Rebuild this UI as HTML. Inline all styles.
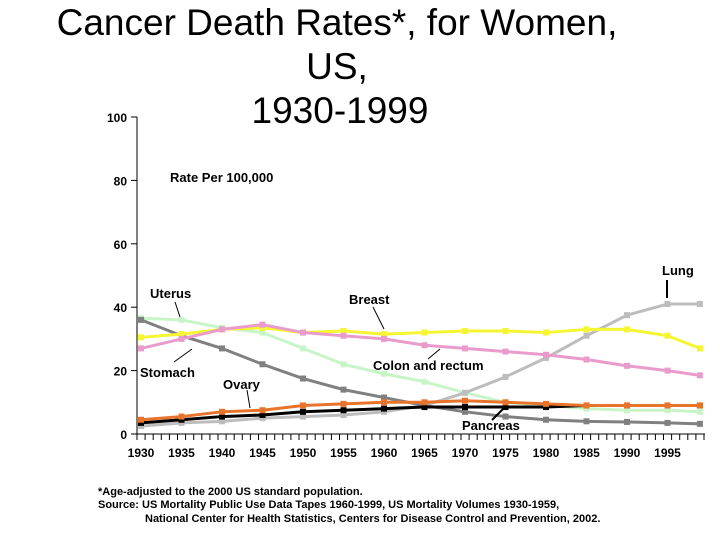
<!DOCTYPE html>
<html><head><meta charset="utf-8">
<style>
body{margin:0;background:#fff;}
svg text{font-family:"Liberation Sans",Arial,sans-serif;}
.t{font-size:12px;font-weight:bold;fill:#000}
.lab{font-size:13px;font-weight:bold;fill:#000}
</style></head>
<body>
<svg id="chart" width="720" height="540" xmlns="http://www.w3.org/2000/svg">
<g>
<text x="337" y="35" font-size="37" text-anchor="middle">Cancer Death Rates*, for Women,</text>
<text x="337" y="79" font-size="37" text-anchor="middle">US,</text>
<text x="340" y="123" font-size="37" text-anchor="middle">1930-1999</text>
</g>
<text class="lab" x="170" y="182" font-size="15">Rate Per 100,000</text>
<g id="axes"></g>
<g id="series"></g>
<g>
<text class="lab" x="150" y="298">Uterus</text>
<line x1="175" y1="302" x2="180" y2="317" stroke="#000"/>
<text class="lab" x="349" y="304">Breast</text>
<line x1="373" y1="307" x2="384" y2="329" stroke="#000"/>
<text class="lab" x="140" y="377">Stomach</text>
<line x1="174" y1="362" x2="192" y2="349" stroke="#000"/>
<text class="lab" x="223" y="389">Ovary</text>
<line x1="247" y1="390" x2="250" y2="408" stroke="#000"/>
<text class="lab" x="373" y="370">Colon and rectum</text>
<line x1="428" y1="359" x2="440" y2="349" stroke="#000"/>
<text class="lab" x="462" y="430">Pancreas</text>
<line x1="492" y1="420" x2="505" y2="407" stroke="#000" stroke-width="2"/>
<text class="lab" x="662" y="275">Lung</text>
<line x1="667" y1="280" x2="667" y2="298" stroke="#000" stroke-width="2"/>
</g>
<g font-size="11" font-weight="bold">
<text x="98" y="495">*Age-adjusted to the 2000 US standard population.</text>
<text x="98" y="508">Source:  US Mortality Public Use Data Tapes 1960-1999, US Mortality Volumes 1930-1959,</text>
<text x="145" y="522">National Center for Health Statistics, Centers for Disease Control and Prevention, 2002.</text>
</g>
</svg>
<script>
const years=[1930,1935,1940,1945,1950,1955,1960,1965,1970,1975,1980,1985,1990,1995,1999];
const lung=[2.5,3.5,4,5,5.5,6,7,9,13,18,24,31,37.5,41,41];
const breast=[30.5,31.5,33,33.5,32,32.5,31.5,32,32.5,32.5,32,33,33,31,27];
const colon=[27,30,33,34.5,32,31,30,28,27,26,25,23.5,21.5,20,18.5];
const uterus=[36.5,36,33.5,32,27,22,19,16.5,13,10,9,8,7.5,7.5,7];
const stomach=[36,31,27,22,17.5,14,11.5,9,7,5.5,4.5,4,3.8,3.5,3.2];
const ovary=[4.5,5.5,7,7.5,9,9.5,10,10,10.5,10,9.5,9,9,9,9];
const pancreas=[3.5,4.5,5.5,6,7,7.5,8,8.5,8.5,8.5,8.5,9,9,9,9];
const yTicks=[0,20,40,60,80,100];
const xTicks=[1930,1935,1940,1945,1950,1955,1960,1965,1970,1975,1980,1985,1990,1995];
const NS="http://www.w3.org/2000/svg";
const x=y=>141+(y-1930)*8.1;
const yv=v=>434-v*3.17;
function mk(tag,attrs,parent){const e=document.createElementNS(NS,tag);for(const k in attrs)e.setAttribute(k,attrs[k]);parent.appendChild(e);return e;}
const ax=document.getElementById('axes');
const yl=mk('line',{x1:137,y1:yv(100),x2:137,y2:434,stroke:'#000'},ax);


const xl=mk('line',{x1:137,y1:434,x2:705,y2:434,stroke:'#000'},ax);


yTicks.forEach(v=>{
 mk('line',{x1:131,y1:yv(v),x2:137,y2:yv(v),stroke:'#000'},ax);
 const t=mk('text',{x:127,y:yv(v)+5,'text-anchor':'end',class:'t'},ax);t.textContent=v;
 
 
});
for(let yr=1930;yr<=2000;yr++){mk('line',{x1:x(yr)-4,y1:434,x2:x(yr)-4,y2:440,stroke:'#000'},ax);}
xTicks.forEach(v=>{
 const t=mk('text',{x:x(v),y:457,'text-anchor':'middle',class:'t','font-size':'11'},ax);t.textContent=v;
 
 
});
const sg=document.getElementById('series');
const series=[['uterus',uterus,'#c8f5c8'],['lung',lung,'#bdbdbd'],['stomach',stomach,'#808080'],['breast',breast,'#f5f531'],['colon-rectum',colon,'#e99ccc'],['pancreas',pancreas,'#000000'],['ovary',ovary,'#e8732a']];
series.forEach(([n,d,c])=>{
 const pts=d.map((v,i)=>x(years[i])+','+yv(v)).join(' ');
 const p=mk('polyline',{points:pts,fill:'none',stroke:c,'stroke-width':3},sg);
 
 
 d.forEach((v,i)=>{
  const r=mk('rect',{x:x(years[i])-3,y:yv(v)-3,width:6,height:6,fill:c},sg);
  
  
 });
});
</script>
</body></html>
